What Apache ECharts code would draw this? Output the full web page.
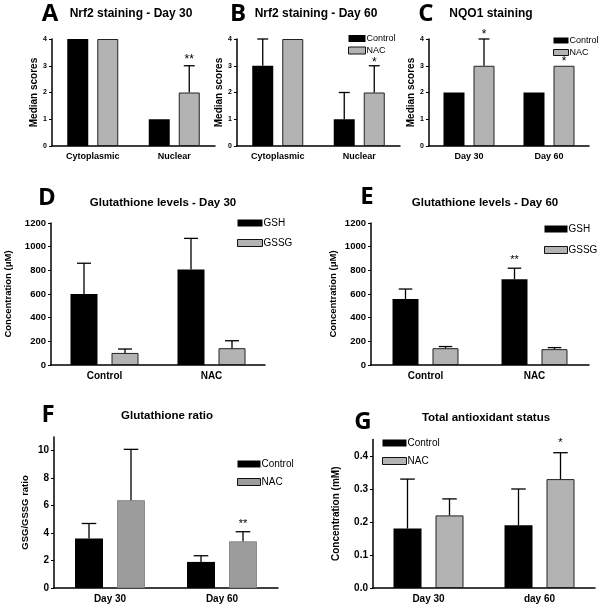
<!DOCTYPE html>
<html>
<head>
<meta charset="utf-8">
<script src="https://cdn.jsdelivr.net/npm/echarts@6/dist/echarts.min.js"></script>
<style>
  html, body { margin: 0; padding: 0; background: #fff; }
  #chart { width: 603px; height: 608px; }
</style>
</head>
<body>
<div id="chart"></div>
<script>
// ---- data ----
const stainCats = ['Cytoplasmic', 'Nuclear'];
const dayCats = ['Day 30', 'Day 60'];
const groupCats = ['Control', 'NAC'];
const dayCatsG = ['Day 30', 'day 60'];

// A: Nrf2 staining - Day 30 (median, upper error)
const aControl = [4, 1];
const aControlUp = [4, 1];
const aNac = [4, 2];
const aNacUp = [4, 3];
const aNacSig = ['', '**'];

// B: Nrf2 staining - Day 60
const bControl = [3, 1];
const bControlUp = [4, 2];
const bNac = [4, 2];
const bNacUp = [4, 3];
const bNacSig = ['', '*'];

// C: NQO1 staining
const cControl = [2, 2];
const cControlUp = [2, 2];
const cNac = [3, 3];
const cNacUp = [4, 3];
const cNacSig = ['*', '*'];

// D: Glutathione levels - Day 30 (uM)
const dGsh = [600, 808];
const dGshUp = [860, 1070];
const dGssg = [102, 142];
const dGssgUp = [135, 205];

// E: Glutathione levels - Day 60 (uM)
const eGsh = [557, 725];
const eGshUp = [642, 818];
const eGshSig = ['', '**'];
const eGssg = [142, 134];
const eGssgUp = [156, 147];

// F: Glutathione ratio
const fControl = [3.6, 1.9];
const fControlUp = [4.7, 2.35];
const fNac = [6.4, 3.4];
const fNacUp = [10.1, 4.1];
const fNacSig = ['', '**'];

// G: Total antioxidant status (mM)
const gControl = [0.18, 0.19];
const gControlUp = [0.33, 0.30];
const gNac = [0.22, 0.33];
const gNacUp = [0.27, 0.41];
const gNacSig = ['', '*'];

const yTicksScore = [0, 1, 2, 3, 4];
const yTicksConc = [0, 200, 400, 600, 800, 1000, 1200];
const yTicksRatio = [0, 2, 4, 6, 8, 10];
const yTicksTas = [0, 0.1, 0.2, 0.3, 0.4];

// ---- styling ----
const FONT = '"Liberation Sans", Arial, sans-serif';
const BLACK = '#000';
const GRAY = '#b3b3b3';
const GRAY_F = '#9c9c9c';

const panels = [
  {
    grid: { left: 52, top: 39, width: 163, height: 107 },
    cats: stainCats, max: 4, ticks: yTicksScore, fmt: v => v,
    yFont: 7, xFont: 9, xMargin: 6, name: 'Median scores', nameGap: 10, nameFont: 10,
    bw: 21, gap: 9, sigGap: 9, sigFont: 12,
    s: [
      { name: 'Control', color: BLACK, vals: aControl, up: aControlUp, sig: [] },
      { name: 'NAC', color: GRAY, vals: aNac, up: aNacUp, sig: aNacSig }
    ]
  },
  {
    grid: { left: 237, top: 39, width: 163, height: 107 },
    cats: stainCats, max: 4, ticks: yTicksScore, fmt: v => v,
    yFont: 7, xFont: 9, xMargin: 6, name: 'Median scores', nameGap: 9, nameFont: 10,
    bw: 21, gap: 9, sigGap: 6, sigFont: 12,
    legend: { left: 348, top: 34, w: 17, h: 7, gap: 3, font: 9 },
    s: [
      { name: 'Control', color: BLACK, vals: bControl, up: bControlUp, sig: [] },
      { name: 'NAC', color: GRAY, vals: bNac, up: bNacUp, sig: bNacSig }
    ]
  },
  {
    grid: { left: 429, top: 39, width: 160, height: 107 },
    cats: dayCats, max: 4, ticks: yTicksScore, fmt: v => v,
    yFont: 7, xFont: 9, xMargin: 6, name: 'Median scores', nameGap: 12, nameFont: 10,
    bw: 21, gap: 9, sigGap: 7, sigFont: 12,
    legend: { left: 553, top: 36, w: 15, h: 6, gap: 3, font: 9 },
    s: [
      { name: 'Control', color: BLACK, vals: cControl, up: cControlUp, sig: [] },
      { name: 'NAC', color: GRAY, vals: cNac, up: cNacUp, sig: cNacSig }
    ]
  },
  {
    grid: { left: 51, top: 223, width: 214, height: 142 },
    cats: groupCats, max: 1200, ticks: yTicksConc, fmt: v => v,
    yFont: 9.5, xFont: 10, xMargin: 6, name: 'Concentration (μM)', nameGap: 38, nameFont: 9.5,
    bw: 27, gap: 14, sigGap: 11, sigFont: 11,
    legend: { left: 237, top: 218, w: 25, h: 7, gap: 10, font: 10 },
    s: [
      { name: 'GSH', color: BLACK, vals: dGsh, up: dGshUp, sig: [] },
      { name: 'GSSG', color: GRAY, vals: dGssg, up: dGssgUp, sig: [] }
    ]
  },
  {
    grid: { left: 371, top: 223, width: 218, height: 142 },
    cats: groupCats, max: 1200, ticks: yTicksConc, fmt: v => v,
    yFont: 9.5, xFont: 10, xMargin: 6, name: 'Concentration (μM)', nameGap: 33, nameFont: 9.5,
    bw: 26, gap: 14, sigGap: 11, sigFont: 11,
    legend: { left: 544, top: 224, w: 23, h: 7, gap: 11, font: 10 },
    s: [
      { name: 'GSH', color: BLACK, vals: eGsh, up: eGshUp, sig: eGshSig },
      { name: 'GSSG', color: GRAY, vals: eGssg, up: eGssgUp, sig: [] }
    ]
  },
  {
    grid: { left: 54, top: 437, width: 224, height: 151 },
    cats: dayCats, max: 11, ticks: yTicksRatio, fmt: v => v,
    yFont: 10, xFont: 10, xMargin: 6, name: 'GSG/GSSG ratio', nameGap: 24, nameFont: 9.5,
    bw: 28, gap: 14, sigGap: 10, sigFont: 11,
    legend: { left: 237, top: 459, w: 23, h: 7, gap: 8, font: 10 },
    s: [
      { name: 'Control', color: BLACK, vals: fControl, up: fControlUp, sig: [] },
      { name: 'NAC', color: GRAY_F, border: '#8a8a8a', vals: fNac, up: fNacUp, sig: fNacSig }
    ]
  },
  {
    grid: { left: 373, top: 439.5, width: 222, height: 148.5 },
    cats: dayCatsG, max: 0.45, ticks: yTicksTas, fmt: v => v.toFixed(1),
    yFont: 10, xFont: 10, xMargin: 6, name: 'Concentration (mM)', nameGap: 32, nameFont: 10,
    bw: 28, gap: 14, sigGap: 12, sigFont: 11,
    legend: { left: 382, top: 438, w: 24, h: 7, gap: 8, font: 10 },
    s: [
      { name: 'Control', color: BLACK, vals: gControl, up: gControlUp, sig: [] },
      { name: 'NAC', color: GRAY, vals: gNac, up: gNacUp, sig: gNacSig }
    ]
  }
];

const titles = [
  { text: 'Nrf2 staining - Day 30', x: 131, y: 14, size: 12 },
  { text: 'Nrf2 staining - Day 60', x: 316, y: 14, size: 12 },
  { text: 'NQO1 staining', x: 491, y: 14, size: 12 },
  { text: 'Glutathione levels - Day 30', x: 163, y: 203, size: 11.5 },
  { text: 'Glutathione levels - Day 60', x: 485, y: 203, size: 11.5 },
  { text: 'Glutathione ratio', x: 167, y: 416, size: 11.5 },
  { text: 'Total antioxidant status', x: 486, y: 418, size: 11.5 }
];

const letters = [
  { text: 'A', x: 50, y: 14 },
  { text: 'B', x: 238, y: 14 },
  { text: 'C', x: 426, y: 14 },
  { text: 'D', x: 47, y: 198 },
  { text: 'E', x: 367, y: 197 },
  { text: 'F', x: 48, y: 415 },
  { text: 'G', x: 363, y: 422 }
];

// ---- build option ----
const grids = [], xAxes = [], yAxes = [], series = [], legends = [];

panels.forEach((p, i) => {
  grids.push(Object.assign({ containLabel: false }, p.grid));

  xAxes.push({
    type: 'category',
    gridIndex: i,
    data: p.cats,
    axisLine: { lineStyle: { color: BLACK, width: 1.5 } },
    axisTick: { alignWithLabel: true, length: 3, lineStyle: { color: BLACK, width: 1 } },
    axisLabel: { color: BLACK, fontFamily: FONT, fontWeight: 'bold', fontSize: p.xFont, margin: p.xMargin }
  });

  yAxes.push({
    type: 'value',
    gridIndex: i,
    min: 0,
    max: p.max,
    name: p.name,
    nameLocation: 'middle',
    nameGap: p.nameGap,
    nameTextStyle: { color: BLACK, fontFamily: FONT, fontWeight: 'bold', fontSize: p.nameFont },
    splitLine: { show: false },
    axisLine: { show: true, lineStyle: { color: BLACK, width: 1.5 } },
    axisTick: { show: true, length: 3, customValues: p.ticks, lineStyle: { color: BLACK, width: 1 } },
    axisLabel: {
      color: BLACK, fontFamily: FONT, fontWeight: 'bold', fontSize: p.yFont, margin: 5,
      customValues: p.ticks, formatter: p.fmt
    }
  });

  const gapPct = (p.gap / p.bw * 100).toFixed(1) + '%';
  const half = (p.bw + p.gap) / 2;

  p.s.forEach(s => {
    series.push({
      name: s.name,
      type: 'bar',
      xAxisIndex: i,
      yAxisIndex: i,
      data: s.vals,
      barWidth: p.bw,
      barGap: gapPct,
      itemStyle: {
        color: s.color,
        borderColor: s.border || '#222',
        borderWidth: s.color === BLACK ? 0 : 1
      },
      silent: true
    });
  });

  // error bars + significance marks
  const items = [];
  const sigs = [];
  p.s.forEach((s, k) => {
    s.vals.forEach((v, c) => {
      items.push([c, s.up[c], v, k === 0 ? -1 : 1]);
      sigs.push(s.sig[c] || '');
    });
  });

  series.push({
    type: 'custom',
    xAxisIndex: i,
    yAxisIndex: i,
    silent: true,
    z: 5,
    encode: { x: 0, y: 1 },
    data: items,
    renderItem: (params, api) => {
      const c = api.value(0), up = api.value(1), v = api.value(2), side = api.value(3);
      const base = api.coord([c, v]);
      const top = api.coord([c, up]);
      const x = base[0] + side * half;
      const cap = p.bw * 0.26;
      const children = [];
      if (up > v) {
        children.push({
          type: 'line',
          shape: { x1: x, y1: base[1], x2: x, y2: top[1] },
          style: { stroke: BLACK, lineWidth: 1.3 }
        });
        children.push({
          type: 'line',
          shape: { x1: x - cap, y1: top[1], x2: x + cap, y2: top[1] },
          style: { stroke: BLACK, lineWidth: 1.3 }
        });
      }
      const sig = sigs[params.dataIndex];
      if (sig) {
        const yTop = Math.min(base[1], top[1]);
        children.push({
          type: 'text',
          style: {
            text: sig,
            x: x,
            y: yTop - p.sigGap + 0.22 * p.sigFont,
            align: 'center',
            verticalAlign: 'middle',
            fill: BLACK,
            font: p.sigFont + 'px ' + FONT
          }
        });
      }
      return { type: 'group', children: children };
    }
  });

  if (p.legend) {
    const L = p.legend;
    legends.push({
      orient: 'vertical',
      left: L.left,
      top: L.top,
      padding: 0,
      itemWidth: L.w,
      itemHeight: L.h,
      itemGap: L.gap,
      icon: 'rect',
      selectedMode: false,
      textStyle: { color: BLACK, fontFamily: FONT, fontSize: L.font, padding: [0, 0, 0, -4] },
      data: p.s.map(s => ({
        name: s.name,
        itemStyle: {
          color: s.color,
          borderColor: '#111',
          borderWidth: s.color === BLACK ? 0 : 1
        }
      }))
    });
  }
});

const graphics = [];
titles.forEach(t => {
  graphics.push({
    type: 'text',
    x: t.x, y: t.y,
    style: {
      text: t.text, align: 'center', verticalAlign: 'middle', fill: BLACK,
      font: 'bold ' + t.size + 'px ' + FONT
    }
  });
});
letters.forEach(t => {
  graphics.push({
    type: 'text',
    x: t.x, y: t.y,
    style: {
      text: t.text, align: 'center', verticalAlign: 'middle', fill: BLACK,
      font: 'bold 24px "Open Sans", "DejaVu Sans", sans-serif'
    }
  });
});

const chart = echarts.init(document.getElementById('chart'), null, { renderer: 'canvas' });
chart.setOption({
  backgroundColor: '#fff',
  animation: false,
  grid: grids,
  xAxis: xAxes,
  yAxis: yAxes,
  legend: legends,
  series: series,
  graphic: graphics
});
</script>
</body>
</html>
